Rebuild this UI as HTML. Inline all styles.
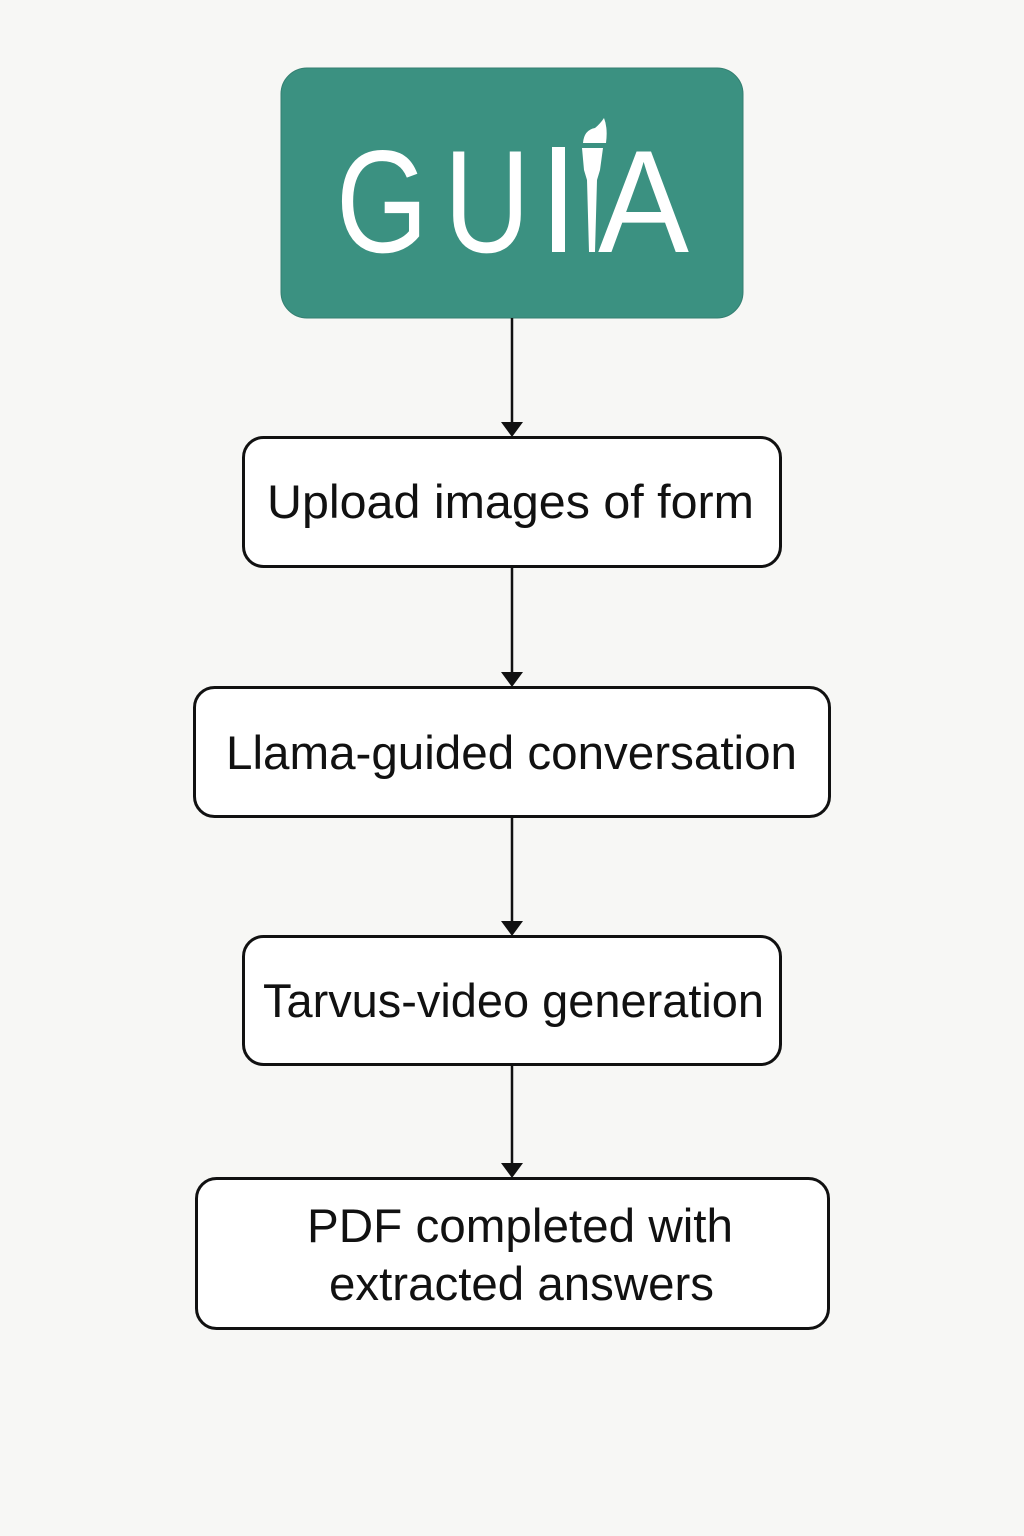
<!DOCTYPE html>
<html><head><meta charset="utf-8"><style>
html,body{margin:0;padding:0;background:#f7f7f5;}
svg{display:block;}
text{font-family:"Liberation Sans","DejaVu Sans",sans-serif;}
</style></head><body>
<svg width="1024" height="1536" viewBox="0 0 1024 1536" xmlns="http://www.w3.org/2000/svg">
<rect width="1024" height="1536" fill="#f7f7f5"/>
<rect x="281" y="68" width="462" height="250" rx="26" fill="#3b9181" stroke="#347f71" stroke-width="1"/>
<g fill="#fff">
<text x="336" y="252" font-size="146" textLength="92" lengthAdjust="spacingAndGlyphs">G</text>
<text x="444" y="252" font-size="146" textLength="86" lengthAdjust="spacingAndGlyphs">U</text>
<rect x="552" y="147" width="13" height="105"/>
<path d="M582 148 L603 148 L600 170 L597 180 L595 252 L589 252 L587 180 L584 170 Z"/>
<path d="M583 143 Q584 130 595 128 Q600 124 604 118 Q608 128 606 143 Z"/>
<text x="598" y="252" font-size="146" textLength="91" lengthAdjust="spacingAndGlyphs">A</text>
</g>
<g stroke="#111" stroke-width="2.5" fill="none">
<line x1="512" y1="318" x2="512" y2="425"/>
<line x1="512" y1="567" x2="512" y2="675"/>
<line x1="512" y1="817" x2="512" y2="924"/>
<line x1="512" y1="1065" x2="512" y2="1166"/>
</g>
<g fill="#111">
<path d="M501 422 L523 422 L512 437 Z"/>
<path d="M501 672 L523 672 L512 687 Z"/>
<path d="M501 921 L523 921 L512 936 Z"/>
<path d="M501 1163 L523 1163 L512 1178 Z"/>
</g>
<g fill="#fff" stroke="#111" stroke-width="3">
<rect x="243.5" y="437.5" width="537" height="129" rx="20"/>
<rect x="194.5" y="687.5" width="635" height="129" rx="20"/>
<rect x="243.5" y="936.5" width="537" height="128" rx="20"/>
<rect x="196.5" y="1178.5" width="632" height="150" rx="20"/>
</g>
<g fill="#111" font-size="47">
<text x="267" y="518" textLength="487" lengthAdjust="spacingAndGlyphs">Upload images of form</text>
<text x="226" y="769" textLength="571" lengthAdjust="spacingAndGlyphs">Llama-guided conversation</text>
<text x="263" y="1017" textLength="501" lengthAdjust="spacingAndGlyphs">Tarvus-video generation</text>
<text x="307" y="1242" textLength="426" lengthAdjust="spacingAndGlyphs">PDF completed with</text>
<text x="329" y="1300" textLength="385" lengthAdjust="spacingAndGlyphs">extracted answers</text>
</g>
</svg>
</body></html>
